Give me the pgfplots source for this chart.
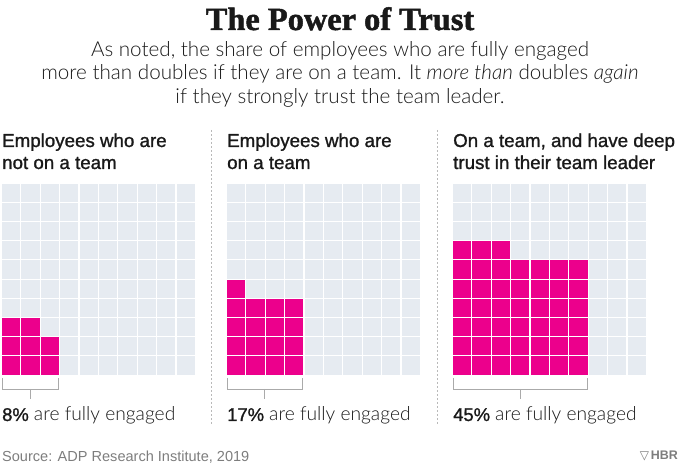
\documentclass[border=0pt]{standalone}
\usepackage{pgfplots}
\usepackage{pgfplotstable}
\pgfplotsset{compat=1.18}
\usepackage{fontspec}
\setmainfont{Liberation Sans}
\newfontfamily\titlefont{Liberation Serif}[FakeBold=1.5]
\newfontfamily\lightfont{Lato Light}[ItalicFont={Lato Light Italic}]
\newfontfamily\medfont{Liberation Sans}[FakeBold=1.2]
\newfontfamily\symfont{DejaVu Sans}
\definecolor{hbrpink}{RGB}{236,0,140}
\definecolor{cellgray}{RGB}{230,235,241}
\definecolor{txtgray}{RGB}{125,125,125}
\definecolor{brk}{RGB}{170,170,170}
\definecolor{sep}{RGB}{185,185,185}
\definecolor{ink}{RGB}{25,25,25}

\pgfplotstableread[row sep=\\]{
x y\\
0 0\\1 0\\2 0\\3 0\\4 0\\5 0\\6 0\\7 0\\8 0\\9 0\\
0 1\\1 1\\2 1\\3 1\\4 1\\5 1\\6 1\\7 1\\8 1\\9 1\\
0 2\\1 2\\2 2\\3 2\\4 2\\5 2\\6 2\\7 2\\8 2\\9 2\\
0 3\\1 3\\2 3\\3 3\\4 3\\5 3\\6 3\\7 3\\8 3\\9 3\\
0 4\\1 4\\2 4\\3 4\\4 4\\5 4\\6 4\\7 4\\8 4\\9 4\\
0 5\\1 5\\2 5\\3 5\\4 5\\5 5\\6 5\\7 5\\8 5\\9 5\\
0 6\\1 6\\2 6\\3 6\\4 6\\5 6\\6 6\\7 6\\8 6\\9 6\\
0 7\\1 7\\2 7\\3 7\\4 7\\5 7\\6 7\\7 7\\8 7\\9 7\\
0 8\\1 8\\2 8\\3 8\\4 8\\5 8\\6 8\\7 8\\8 8\\9 8\\
0 9\\1 9\\2 9\\3 9\\4 9\\5 9\\6 9\\7 9\\8 9\\9 9\\
}\gridtable

% 8% engaged
\pgfplotstableread[row sep=\\]{
x y\\
0 0\\1 0\\2 0\\
0 1\\1 1\\2 1\\
0 2\\1 2\\
}\panelA

% 17% engaged
\pgfplotstableread[row sep=\\]{
x y\\
0 0\\1 0\\2 0\\3 0\\
0 1\\1 1\\2 1\\3 1\\
0 2\\1 2\\2 2\\3 2\\
0 3\\1 3\\2 3\\3 3\\
0 4\\
}\panelB

% 45% engaged
\pgfplotstableread[row sep=\\]{
x y\\
0 0\\1 0\\2 0\\3 0\\4 0\\5 0\\6 0\\
0 1\\1 1\\2 1\\3 1\\4 1\\5 1\\6 1\\
0 2\\1 2\\2 2\\3 2\\4 2\\5 2\\6 2\\
0 3\\1 3\\2 3\\3 3\\4 3\\5 3\\6 3\\
0 4\\1 4\\2 4\\3 4\\4 4\\5 4\\6 4\\
0 5\\1 5\\2 5\\3 5\\4 5\\5 5\\6 5\\
0 6\\1 6\\2 6\\
}\panelC

\pgfplotsset{waffle/.style={
  x=19.4bp, y=19.2bp, xmin=-0.5, xmax=9.5, ymin=-0.5, ymax=9.5,
  hide axis, clip=false, anchor=south west}}

\newcommand{\waffle}[2]{%
  \addplot[only marks, mark=square*, mark size=8.6bp, color=cellgray] table {\gridtable};
  \addplot[only marks, mark=square*, mark size=8.6bp, color=hbrpink] table {#1};
  \draw[brk, line width=0.9bp] (axis cs:-0.454,-0.66) -- (axis cs:-0.454,-1.234)
     -- (axis cs:#2-1+0.454,-1.234) -- (axis cs:#2-1+0.454,-0.66);
  \draw[brk, line width=0.9bp] (axis cs:#2/2-0.5,-1.234) -- (axis cs:#2/2-0.5,-1.755);
}

\begin{document}
\begin{tikzpicture}[x=1bp,y=1bp]
\useasboundingbox (0,0) rectangle (680,466);

% title and subtitle
\node[anchor=base, text=ink, inner sep=0] at (340,436)
  {\titlefont\bfseries\fontsize{32.5}{32.5}\selectfont The Power of Trust};
\node[anchor=base, text=ink, inner sep=0] at (340,409)
  {\lightfont\fontsize{20.7}{20.7}\selectfont As noted, the share of employees who are fully engaged};
\node[anchor=base, text=ink, inner sep=0] at (340,386)
  {\lightfont\fontsize{20.7}{20.7}\selectfont more than doubles if they are on a team. It \textit{more than} doubles \textit{again}};
\node[anchor=base, text=ink, inner sep=0] at (340,362)
  {\lightfont\fontsize{20.7}{20.7}\selectfont if they strongly trust the team leader.};

% panel headers
\foreach \xx/\la/\lb in {2/Employees who are/not on a team, 227/Employees who are/on a team, 453/{On a team, and have deep}/trust in their team leader}{
  \node[anchor=base west, text=ink, inner sep=0] at (\xx,319)
    {\medfont\fontsize{18.8}{18.8}\selectfont \la};
  \node[anchor=base west, text=ink, inner sep=0] at (\xx,297)
    {\medfont\fontsize{18.8}{18.8}\selectfont \lb};
}

% separators
\draw[sep, line width=0.8bp, dash pattern=on 2bp off 2bp] (211,336) -- (211,40);
\draw[sep, line width=0.8bp, dash pattern=on 2bp off 2bp] (437,336) -- (437,40);

% waffles
\begin{axis}[waffle, at={(1.1bp,91.1bp)}]
  \waffle{\panelA}{3}
\end{axis}
\begin{axis}[waffle, at={(226.1bp,91.1bp)}]
  \waffle{\panelB}{4}
\end{axis}
\begin{axis}[waffle, at={(452.1bp,91.1bp)}]
  \waffle{\panelC}{7}
\end{axis}

% bottom labels
\foreach \xx/\pc in {2/8, 227/17, 453/45}{
  \node[anchor=base west, text=ink, inner sep=0] at (\xx,45)
    {{\medfont\fontsize{18.5}{18.5}\selectfont \pc\%\ }{\lightfont\fontsize{19.3}{19.3}\selectfont are fully engaged}};
}

% source and logo
\node[anchor=base west, text=txtgray, inner sep=0] at (2,4)
  {\fontsize{14.6}{14.6}\selectfont Source: ADP Research Institute, 2019};
\node[anchor=base east, text=txtgray, inner sep=0] at (678,6)
  {{\symfont\fontsize{12}{12}\selectfont ▽}\,{\bfseries\fontsize{12.5}{12.5}\selectfont HBR}};
\end{tikzpicture}
\end{document}
